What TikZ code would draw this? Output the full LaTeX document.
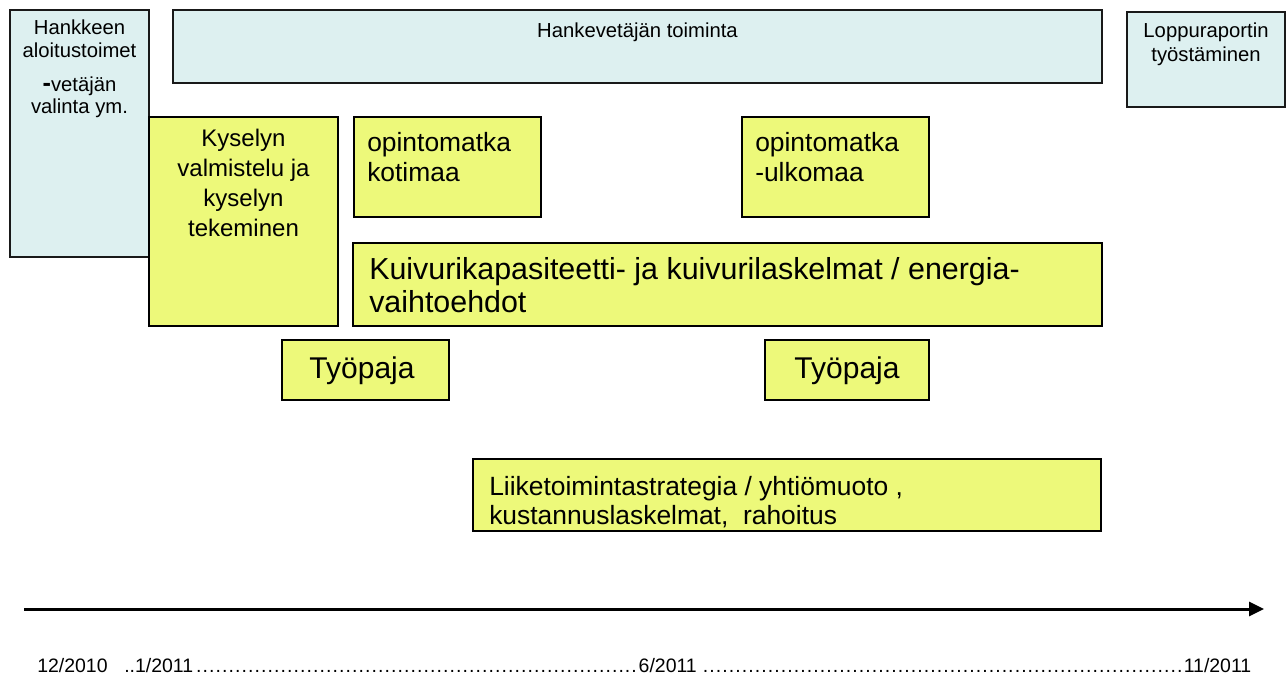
\documentclass[tikz,border=0pt]{standalone}
\usepackage{fontspec}
\setmainfont{Liberation Sans}
\usetikzlibrary{arrows.meta}
\definecolor{boxblue}{RGB}{221,240,240}
\definecolor{boxyellow}{RGB}{237,249,122}
\newcommand\fsz[1]{\fontsize{#1}{#1}\selectfont}
\newcommand\dotsrun[1]{\leaders\hbox to 4.87pt{\hss.\hss}\hskip #1\relax}
\begin{document}
\begin{tikzpicture}[x=0.75pt,y=-0.75pt,
  bluebox/.style={draw=black!90, line width=1.5pt, fill=boxblue},
  yellowbox/.style={draw=black, line width=1.5pt, fill=boxyellow},
  lbl/.style={inner sep=0pt, anchor=base},
  lblw/.style={inner sep=0pt, anchor=base west},
  blue text/.style={font=\fsz{15.2}},
  kys text/.style={font=\fsz{18}},
  opin text/.style={font=\fsz{19.8}},
  kuiv text/.style={font=\fsz{22.8}},
  tyo text/.style={font=\fsz{22.5}},
  date text/.style={font=\fsz{14.6}},
  timeline/.style={line width=2.25pt, -{Triangle[length=11.25pt,width=10.5pt]}}]
\useasboundingbox (0,0) rectangle (1286,687);
\fill[white] (0,0) rectangle (1286,687);

% blue boxes
\path[bluebox] (10,10) rectangle (149,257);
\path[bluebox] (173,10) rectangle (1102,83);
\path[bluebox] (1127,12) rectangle (1285,107);

% yellow boxes
\path[yellowbox] (149,117) rectangle (338,326);
\path[yellowbox] (354,117) rectangle (541,217);
\path[yellowbox] (742,117) rectangle (929,217);
\path[yellowbox] (353,243) rectangle (1102,326);
\path[yellowbox] (282,340) rectangle (449,400);
\path[yellowbox] (765,340) rectangle (929,400);
\path[yellowbox] (473,459) rectangle (1101,531);

% left blue box text
\node[lbl, blue text] (h1) at (79.5,34) {Hankkeen};
\node[lbl, blue text] (h2) at (79.5,57) {aloitustoimet};
\node[lbl, blue text] (h3) at (79.5,91) {{\fsz{19}\textbf{-}}vetäjän};
\node[lbl, blue text] (h4) at (79.5,113) {valinta ym.};

% top box text
\node[lbl, blue text] (top) at (637.5,37) {Hankevetäjän toiminta};

% right box text
\node[lbl, blue text] (r1) at (1206,37) {Loppuraportin};
\node[lbl, blue text] (r2) at (1206,61) {työstäminen};

% Kyselyn
\node[lbl, kys text] (k1) at (243.5,146) {Kyselyn};
\node[lbl, kys text] (k2) at (243.5,176) {valmistelu ja};
\node[lbl, kys text] (k3) at (243.5,206) {kyselyn};
\node[lbl, kys text] (k4) at (243.5,236) {tekeminen};

% opintomatkat
\node[lblw, opin text] (o1) at (367,151) {opintomatka};
\node[lblw, opin text] (o2) at (367,181) {kotimaa};
\node[lblw, opin text] (u1) at (755,151) {opintomatka};
\node[lblw, opin text] (u2) at (755,181) {-ulkomaa};

% Kuivuri
\node[lblw, kuiv text] (c1) at (369,279) {Kuivurikapasiteetti- ja kuivurilaskelmat / energia-};
\node[lblw, kuiv text] (c2) at (369,312) {vaihtoehdot};

% Tyopajat
\node[lbl, tyo text] (w1) at (362,378) {Työpaja};
\node[lbl, tyo text] (w2) at (847,378) {Työpaja};

% Liiketoiminta
\node[lblw, opin text] (l1) at (489,495) {Liiketoimintastrategia / yhtiömuoto ,};
\node[lblw, opin text] (l2) at (489,524) {kustannuslaskelmat,\ \ rahoitus};

% timeline
\coordinate (ta) at (24,609);
\coordinate (tb) at (1264,609);
\draw[timeline] (ta) -- (tb);

% dates
\node[lblw, date text] (d1) at (37,672) {12/2010};
\node[lblw, date text] (d2) at (124,672) {..1/2011\dotsrun{334pt}6/2011 \dotsrun{361pt}11/2011};
\end{tikzpicture}
\end{document}
